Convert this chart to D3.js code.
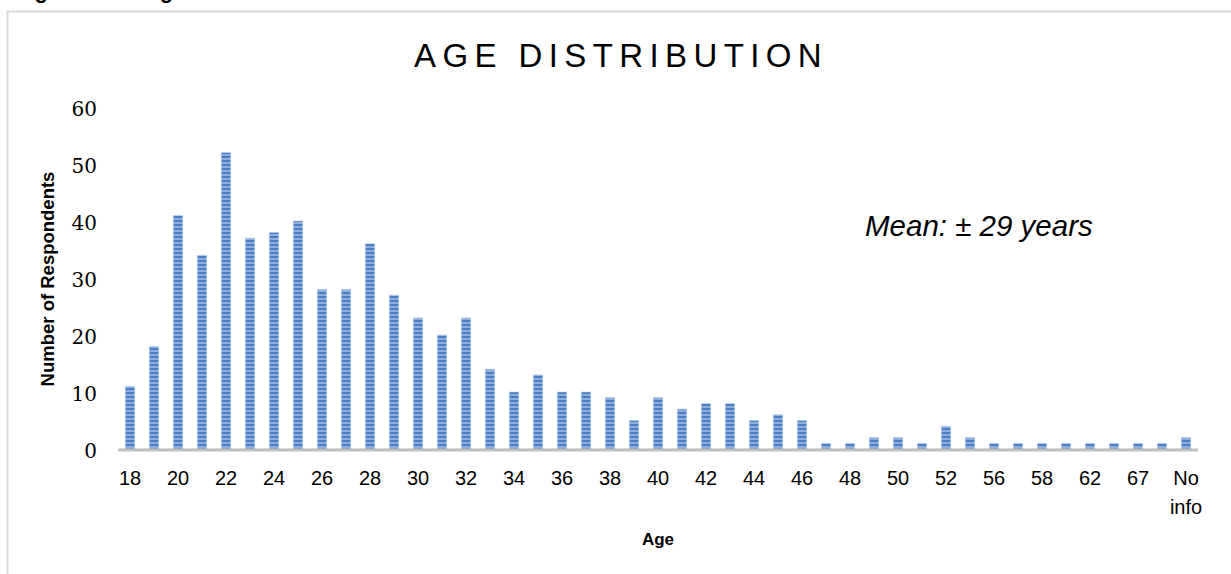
<!DOCTYPE html>
<html>
<head>
<meta charset="utf-8">
<script src="https://cdn.jsdelivr.net/npm/d3@7"></script>
<style>
  html, body { margin: 0; padding: 0; background: #ffffff; }
  svg { display: block; }
</style>
</head>
<body>
<svg id="chart" width="1231" height="574"></svg>
<script>
// Age of respondents (years) and how many gave each age
const ages = ["18","19","20","21","22","23","24","25","26","27","28","29","30","31","32","33","34","35","36","37","38","39","40","41","42","43","44","45","46","47","48","49","50","51","52","54","56","57","58","60","62","65","67","70","No info"];
const respondents = [11,18,41,34,52,37,38,40,28,28,36,27,23,20,23,14,10,13,10,10,9,5,9,7,8,8,5,6,5,1,1,2,2,1,4,2,1,1,1,1,1,1,1,1,2];
const yTicks = [0,10,20,30,40,50,60];

const svg = d3.select("#chart");

// striped bar fill
const defs = svg.append("defs");
const pat = defs.append("pattern")
  .attr("id", "stripes")
  .attr("patternUnits", "userSpaceOnUse")
  .attr("width", 8).attr("height", 4);
pat.append("rect").attr("width", 8).attr("height", 4).attr("fill", "#4a7dc2");
pat.append("rect").attr("y", 2.2).attr("width", 8).attr("height", 1.6).attr("fill", "#9fbce4");

// caption above the frame
svg.append("text")
  .attr("x", 15).attr("y", -2)
  .attr("font-family", "Liberation Sans, Arial, sans-serif")
  .attr("font-weight", "bold").attr("font-size", 22)
  .attr("fill", "#000")
  .text("Figure 4.12: Age Distribution");

// chart frame
svg.append("rect")
  .attr("x", 7.5).attr("y", 11.5)
  .attr("width", 1300).attr("height", 700)
  .attr("fill", "none").attr("stroke", "#d9d9d9").attr("stroke-width", 2);

const x = d3.scaleBand().domain(ages).range([118, 1198]).paddingInner(0.6).paddingOuter(0.3);
const y = d3.scaleLinear().domain([0, 60]).range([449, 107]);

// title
svg.append("text")
  .attr("x", 414).attr("y", 67)
  .attr("font-family", "Liberation Sans, Arial, sans-serif")
  .attr("font-size", 33).attr("letter-spacing", 6.4)
  .attr("fill", "#000")
  .text("AGE DISTRIBUTION");

// bars
svg.append("g").selectAll("rect")
  .data(ages.map((a, i) => ({ age: a, n: respondents[i] })))
  .join("rect")
  .attr("x", d => x(d.age))
  .attr("width", x.bandwidth())
  .attr("y", d => y(d.n))
  .attr("height", d => y(0) - y(d.n))
  .attr("fill", "url(#stripes)")
  .attr("stroke", "#bcd0ee").attr("stroke-width", 0.6);

// category axis line
svg.append("line")
  .attr("x1", 118).attr("x2", 1198)
  .attr("y1", y(0) + 1).attr("y2", y(0) + 1)
  .attr("stroke", "#c0c0c0").attr("stroke-width", 3);

// y axis labels
const yAxis = d3.axisLeft(y).tickValues(yTicks).tickSize(0).tickPadding(0);
const yg = svg.append("g").attr("transform", "translate(97,0)").call(yAxis);
yg.select(".domain").remove();
yg.selectAll("text")
  .attr("font-family", "DejaVu Serif, Liberation Serif, serif")
  .attr("font-size", 20).attr("fill", "#000")
  .attr("dy", "0.4em");

// x axis labels, every other category
const xAxis = d3.axisBottom(x).tickSize(0).tickPadding(0)
  .tickFormat((d, i) => i % 2 === 0 ? d : "");
const xg = svg.append("g").attr("transform", "translate(0,471)").call(xAxis);
xg.select(".domain").remove();
xg.selectAll("text")
  .attr("font-family", "Liberation Sans, Arial, sans-serif")
  .attr("font-size", 20).attr("fill", "#000")
  .attr("dy", "0.72em")
  .each(function(d) {
    if (d === "No info") {
      const t = d3.select(this);
      t.text(null);
      t.append("tspan").attr("x", 0).attr("dy", "0.72em").text("No");
      t.append("tspan").attr("x", 0).attr("dy", "1.45em").text("info");
      t.attr("dy", null);
    }
  });

// axis titles
svg.append("text")
  .attr("transform", "translate(54,279) rotate(-90)")
  .attr("text-anchor", "middle")
  .attr("font-family", "Liberation Sans, Arial, sans-serif")
  .attr("font-weight", "bold").attr("font-size", 18.5)
  .attr("fill", "#000")
  .text("Number of Respondents");

svg.append("text")
  .attr("x", 658).attr("y", 545)
  .attr("text-anchor", "middle")
  .attr("font-family", "Liberation Sans, Arial, sans-serif")
  .attr("font-weight", "bold").attr("font-size", 17)
  .attr("fill", "#000")
  .text("Age");

// mean annotation
svg.append("text")
  .attr("x", 865).attr("y", 236)
  .attr("font-family", "Liberation Sans, Arial, sans-serif")
  .attr("font-style", "italic").attr("font-size", 29.5)
  .attr("fill", "#000")
  .text("Mean: ± 29 years");
</script>
</body>
</html>
